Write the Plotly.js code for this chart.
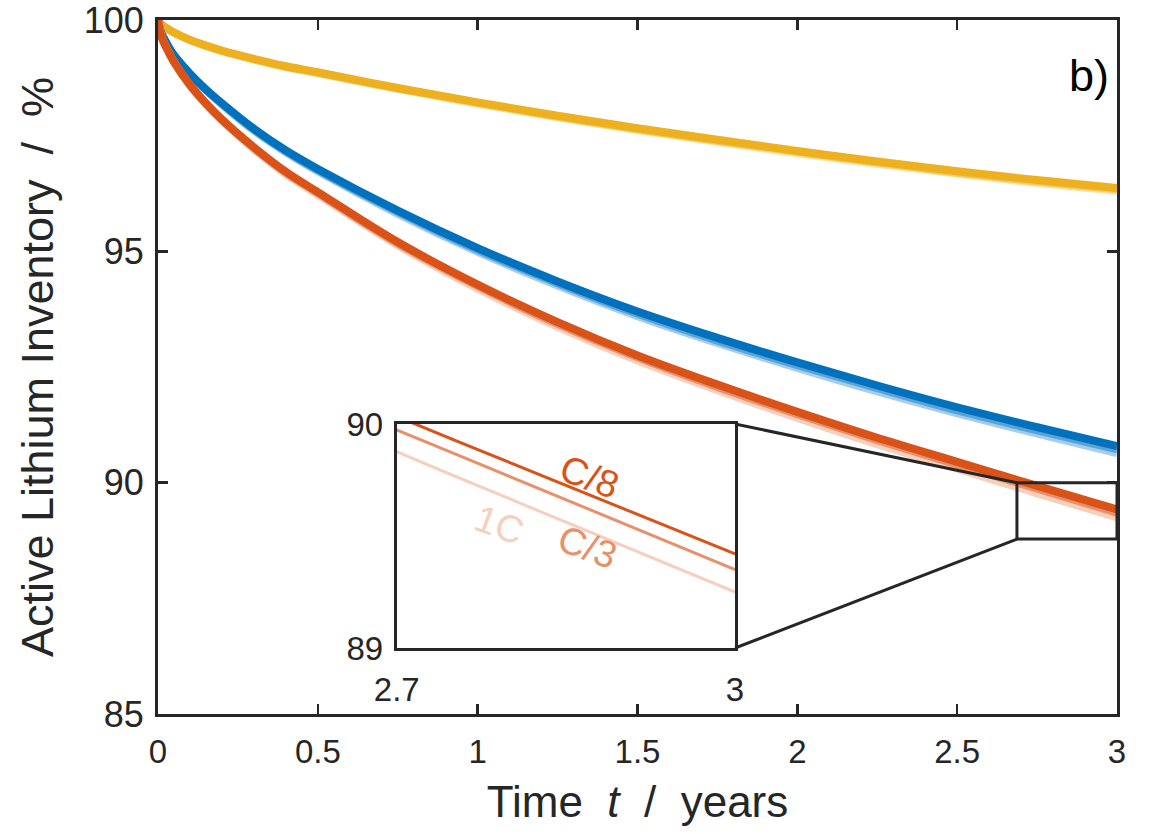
<!DOCTYPE html>
<html>
<head>
<meta charset="utf-8">
<script src="https://cdn.plot.ly/plotly-3.0.1.min.js"></script>
<style>html,body{margin:0;padding:0;background:#fff;}#chart{width:1158px;height:834px;}</style>
</head>
<body>
<div id="chart"></div>
<script>
// Time in years
const timeYears = [0, 0.01, 0.025, 0.05, 0.1, 0.15, 0.2, 0.3, 0.4, 0.5, 0.75, 1.0, 1.25, 1.5, 1.75, 2.0, 2.25, 2.5, 2.75, 3.0];

// Active lithium inventory (%) – yellow group
const yellowC8 = [100, 99.91, 99.83, 99.73, 99.57, 99.45, 99.34, 99.16, 99.00, 98.87, 98.53, 98.22, 97.93, 97.66, 97.41, 97.17, 96.94, 96.73, 96.54, 96.37];
const yellowC3 = [100, 99.91, 99.83, 99.73, 99.57, 99.44, 99.33, 99.15, 98.99, 98.86, 98.52, 98.21, 97.91, 97.64, 97.39, 97.15, 96.92, 96.70, 96.51, 96.34];
const yellow1C = [100, 99.91, 99.83, 99.72, 99.56, 99.44, 99.33, 99.15, 98.98, 98.85, 98.51, 98.19, 97.90, 97.62, 97.37, 97.12, 96.89, 96.68, 96.48, 96.31];

// blue group
const blueC8 = [100, 99.72, 99.52, 99.24, 98.84, 98.50, 98.20, 97.65, 97.18, 96.78, 95.88, 95.07, 94.35, 93.70, 93.13, 92.60, 92.10, 91.63, 91.20, 90.79];
const blueC3 = [100, 99.72, 99.52, 99.23, 98.83, 98.49, 98.19, 97.63, 97.16, 96.75, 95.85, 95.03, 94.31, 93.65, 93.07, 92.54, 92.04, 91.56, 91.13, 90.72];
const blue1C = [100, 99.72, 99.51, 99.23, 98.82, 98.48, 98.17, 97.61, 97.14, 96.73, 95.81, 94.99, 94.26, 93.60, 93.02, 92.48, 91.97, 91.50, 91.06, 90.64];

// red group
const redC8 = [100, 99.66, 99.42, 99.10, 98.60, 98.20, 97.85, 97.25, 96.72, 96.28, 95.20, 94.28, 93.47, 92.75, 92.12, 91.53, 90.97, 90.45, 89.93, 89.42];
const redC3 = [100, 99.66, 99.42, 99.09, 98.59, 98.19, 97.84, 97.23, 96.70, 96.26, 95.17, 94.25, 93.43, 92.71, 92.07, 91.48, 90.92, 90.39, 89.87, 89.35];
const red1C = [100, 99.66, 99.41, 99.09, 98.58, 98.17, 97.82, 97.21, 96.67, 96.22, 95.13, 94.19, 93.37, 92.64, 92.00, 91.40, 90.83, 90.30, 89.77, 89.25];

const rateLabels = ['C/8', 'C/3', '1C'];

const xTicks = [0, 0.5, 1, 1.5, 2, 2.5, 3];
const xTickText = ['0', '0.5', '1', '1.5', '2', '2.5', '3'];
const yTicks = [85, 90, 95, 100];
const yTickText = ['85', '90', '95', '100'];
const insetXTicks = [2.7, 3];
const insetXTickText = ['2.7', '3'];
const insetYTicks = [89, 90];
const insetYTickText = ['89', '90'];

const FONT = 'Liberation Sans, Arial, sans-serif';
const AX = '#262626';

const cols = {
  yellow: ['#F8E1A6', '#F2CA66', '#EDB120'],
  blue:   ['#A6CDEC', '#5BA3D6', '#0072BD'],
  red:    ['#F6D0BF', '#E8906A', '#D95319']
};

function tr(y, c, name, xa, ya, w) {
  return {x: timeYears, y: y, type: 'scatter', mode: 'lines', name: name,
          line: {color: c, width: w, shape: 'spline', smoothing: 1},
          xaxis: xa, yaxis: ya, showlegend: false, hoverinfo: 'skip'};
}

const data = [
  tr(yellow1C, cols.yellow[0], 'yellow 1C', 'x', 'y', 8),
  tr(yellowC3, cols.yellow[1], 'yellow C/3', 'x', 'y', 8),
  tr(yellowC8, cols.yellow[2], 'yellow C/8', 'x', 'y', 8),
  tr(blue1C, cols.blue[0], 'blue 1C', 'x', 'y', 8),
  tr(blueC3, cols.blue[1], 'blue C/3', 'x', 'y', 8),
  tr(blueC8, cols.blue[2], 'blue C/8', 'x', 'y', 8),
  tr(red1C, cols.red[0], 'red 1C', 'x', 'y', 8),
  tr(redC3, cols.red[1], 'red C/3', 'x', 'y', 8),
  tr(redC8, cols.red[2], 'red C/8', 'x', 'y', 8),
  tr(red1C, cols.red[0], 'inset 1C', 'x2', 'y2', 3),
  tr(redC3, cols.red[1], 'inset C/3', 'x2', 'y2', 3),
  tr(redC8, cols.red[2], 'inset C/8', 'x2', 'y2', 3)
];

const mainX = [0, 3], mainY = [85, 100];
const insetDomX = [0.249, 0.6017], insetDomY = [0.0951, 0.4179];
const px2dx = p => mainX[0] + p * (mainX[1] - mainX[0]);
const py2dy = p => mainY[0] + p * (mainY[1] - mainY[0]);
const zoomBox = {x0: 2.687, x1: 3, y0: 88.78, y1: 90};

const layout = {
  width: 1158, height: 834,
  margin: {l: 158, r: 41, t: 20, b: 120},
  paper_bgcolor: '#fff', plot_bgcolor: '#fff',
  font: {family: FONT, color: AX, size: 30},
  xaxis: {
    range: mainX, domain: [0, 1], tickvals: xTicks, ticktext: xTickText,
    ticks: 'inside', ticklen: 10, tickwidth: 2.5, tickcolor: AX,
    showline: true, linecolor: AX, linewidth: 3, mirror: 'ticks',
    showgrid: false, zeroline: false, tickfont: {size: 33, family: FONT, color: AX},
    ticklabelstandoff: 6, ticklabeloverflow: 'allow',
    title: {text: 'Time\u00a0\u00a0<i>t</i>\u00a0\u00a0/\u00a0\u00a0years', font: {size: 44, family: FONT, color: AX}, standoff: 18},
    automargin: false
  },
  yaxis: {
    range: mainY, domain: [0, 1], tickvals: yTicks, ticktext: yTickText,
    ticks: 'inside', ticklen: 10, tickwidth: 2.5, tickcolor: AX,
    showline: true, linecolor: AX, linewidth: 3, mirror: 'ticks',
    showgrid: false, zeroline: false, tickfont: {size: 36, family: FONT, color: AX},
    ticklabelstandoff: 4, ticklabeloverflow: 'allow',
    title: {text: 'Active Lithium Inventory\u00a0\u00a0/\u00a0\u00a0%', font: {size: 45, family: FONT, color: AX}, standoff: 16},
    automargin: false
  },
  xaxis2: {
    range: [2.7, 3], domain: insetDomX, anchor: 'y2', tickvals: insetXTicks, ticktext: insetXTickText,
    ticks: '', showline: true, linecolor: AX, linewidth: 3, mirror: true, ticklabelstandoff: 10,
    ticklabeloverflow: 'allow',
    showgrid: false, zeroline: false, tickfont: {size: 33, family: FONT, color: AX}
  },
  yaxis2: {
    range: [89, 90], domain: insetDomY, anchor: 'x2', tickvals: insetYTicks, ticktext: insetYTickText,
    ticks: '', showline: true, linecolor: AX, linewidth: 3, mirror: true, ticklabelstandoff: 4,
    ticklabeloverflow: 'allow',
    showgrid: false, zeroline: false, tickfont: {size: 33, family: FONT, color: AX}
  },
  shapes: [
    {type: 'rect', xref: 'x', yref: 'y', x0: zoomBox.x0, x1: zoomBox.x1, y0: zoomBox.y0, y1: zoomBox.y1,
     line: {color: AX, width: 3}},
    {type: 'line', xref: 'x', yref: 'y', x0: px2dx(insetDomX[1]), y0: py2dy(insetDomY[1]), x1: zoomBox.x0, y1: zoomBox.y1,
     line: {color: AX, width: 3}},
    {type: 'line', xref: 'x', yref: 'y', x0: px2dx(insetDomX[1]), y0: py2dy(insetDomY[0]), x1: zoomBox.x0, y1: zoomBox.y0,
     line: {color: AX, width: 3}}
  ],
  annotations: [
    {text: 'b)', xref: 'paper', yref: 'paper', x: 0.9935, y: 0.92, xanchor: 'right', yanchor: 'middle', showarrow: false,
     font: {size: 45, family: FONT, color: '#000'}},
    {text: rateLabels[0], xref: 'x2', yref: 'y2', x: 2.871, y: 89.763, showarrow: false, textangle: 20,
     font: {size: 38, family: FONT, color: cols.red[2]}},
    {text: rateLabels[1], xref: 'x2', yref: 'y2', x: 2.869, y: 89.451, showarrow: false, textangle: 20,
     font: {size: 38, family: FONT, color: cols.red[1]}},
    {text: rateLabels[2], xref: 'x2', yref: 'y2', x: 2.791, y: 89.549, showarrow: false, textangle: 20,
     font: {size: 38, family: FONT, color: cols.red[0]}}
  ]
};

Plotly.newPlot('chart', data, layout, {staticPlot: true, displayModeBar: false});
</script>
</body>
</html>
